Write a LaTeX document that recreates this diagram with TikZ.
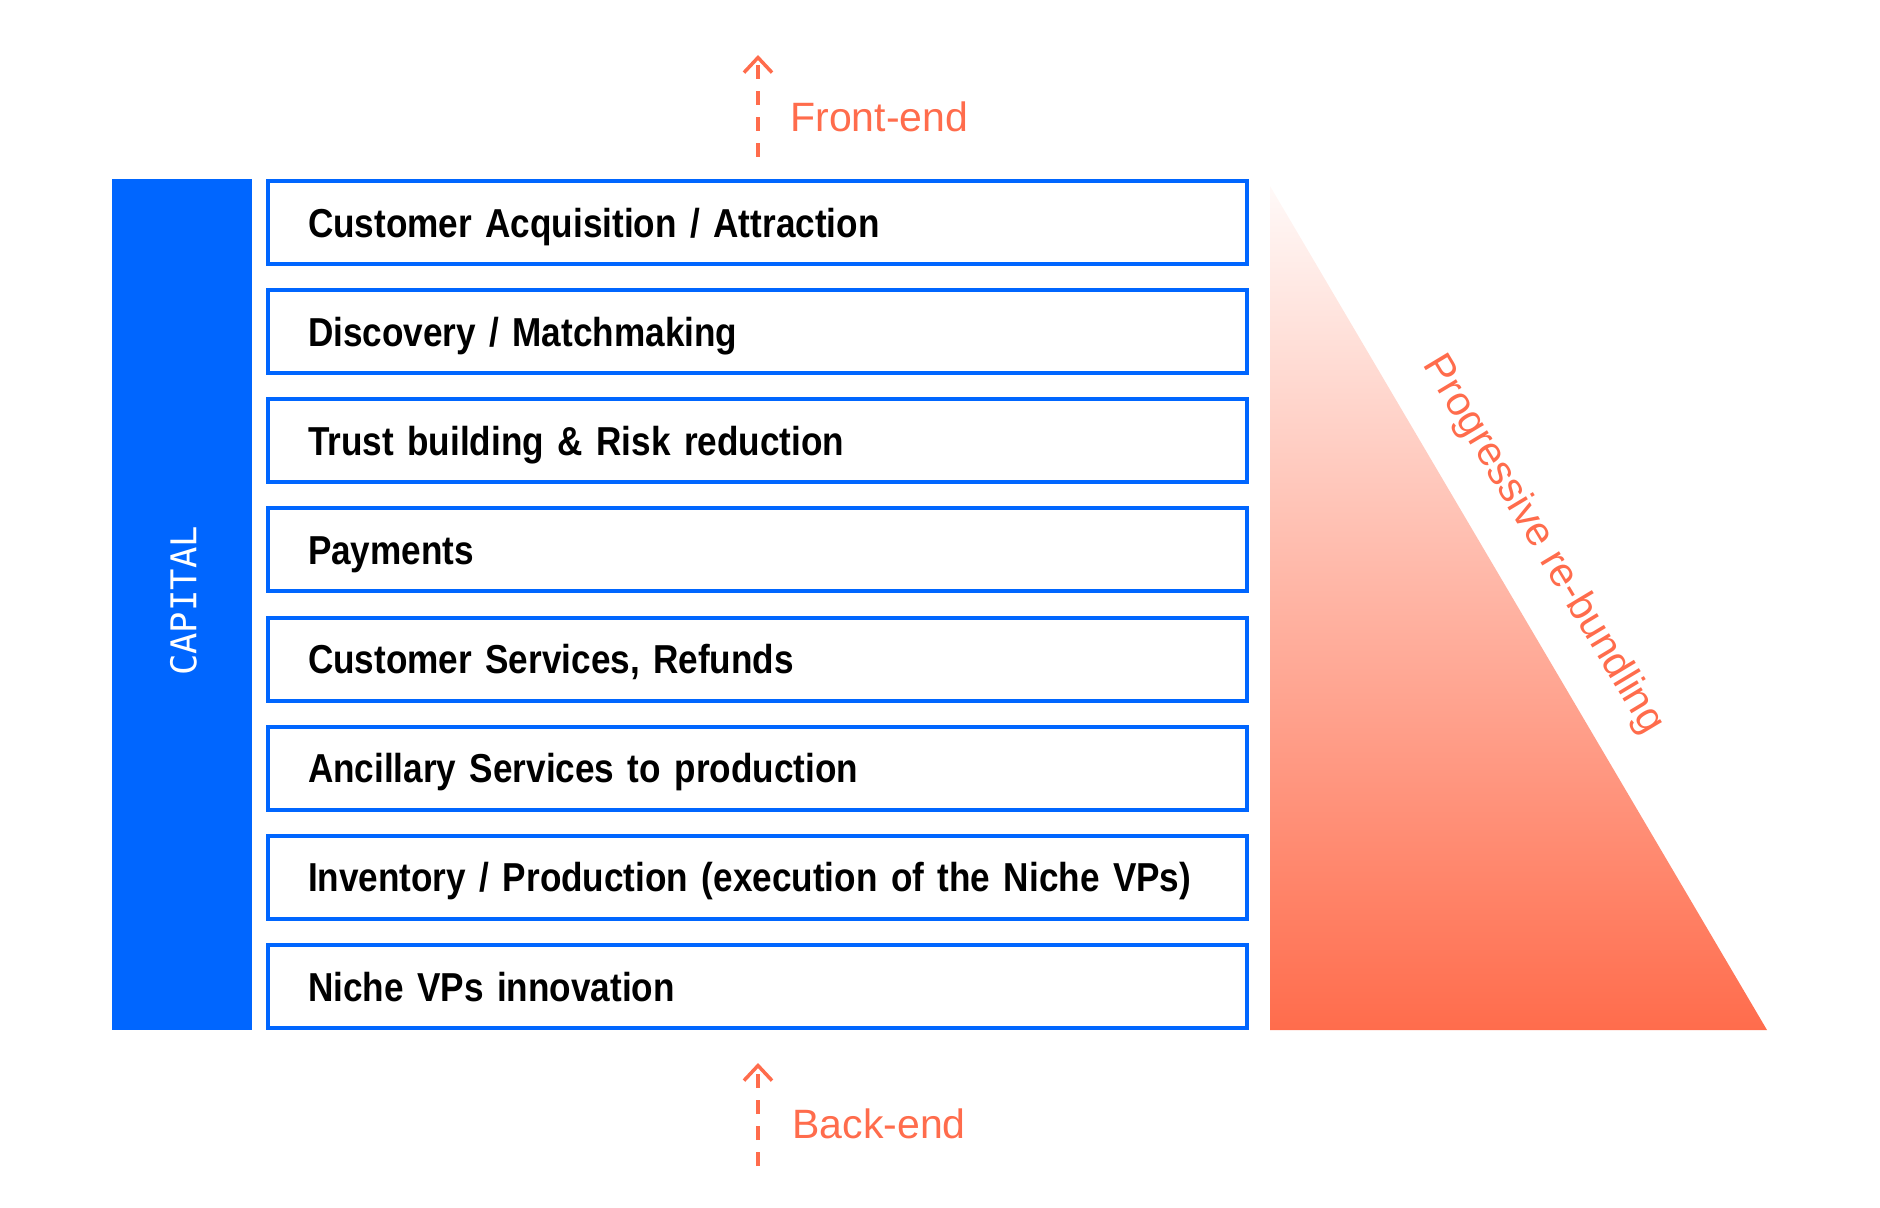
\documentclass[tikz,border=0pt]{standalone}
\usepackage{fontspec}
\setmainfont{Liberation Sans}
\newfontfamily\layerfont[FakeStretch=0.87]{Liberation Sans}
\newfontfamily\capfont{DejaVu Sans Mono}
\usetikzlibrary{arrows.meta}
\definecolor{capblue}{HTML}{0066FF}
\definecolor{coral}{HTML}{FF6C4C}

\begin{document}
\begin{tikzpicture}[x=0.5pt,y=-0.5pt,
  layer/.style={draw=capblue, line width=2pt, anchor=west, inner xsep=20pt, inner ysep=0pt,
    minimum height=41.5pt, text width=449.5pt, align=left, text height=14.6pt, text depth=0pt,
    font=\layerfont\bfseries\fontsize{20.2pt}{24pt}\selectfont},
  tagtext/.style={coral, inner sep=0pt, font=\fontsize{20.5pt}{24pt}\selectfont},
  flow/.style={coral, line width=1.75pt, dash pattern=on 7pt off 6pt,
    -{Straight Barb[length=7.5pt,width=14pt]}}]
  \useasboundingbox (0,0) rectangle (1880,1208);

  % capital bar
  \fill[capblue] (112,179) rectangle (252,1030);
  \node[white, rotate=90, inner sep=0pt, font=\capfont\fontsize{17.75pt}{20pt}\selectfont] (capital) at (183.5,601) {CAPITAL};

  % layers, top to bottom
  \foreach \txt [count=\i] in {Customer Acquisition / Attraction, Discovery / Matchmaking,
      Trust building \& Risk reduction, Payments, {Customer Services, Refunds},
      Ancillary Services to production, Inventory / Production (execution of the Niche VPs),
      Niche VPs innovation}
    \node[layer] (layer\i) at (266,{222.5+109.14*(\i-1)}) {\txt};

  % re-bundling triangle
  \shade[top color=coral!4, bottom color=coral] (1270,186) -- (1767,1030) -- (1270,1030) -- cycle;
  \node[coral, rotate=-59, inner sep=0pt, font=\fontsize{20.5pt}{24pt}\selectfont] (rebundle) at (1543,545) {Progressive re-bundling};

  % front-end / back-end
  \coordinate (fe-tail) at (758,157);
  \coordinate (fe-tip) at (758,55);
  \coordinate (be-tail) at (758,1166);
  \coordinate (be-tip) at (758,1063);
  \draw[flow] (fe-tail) -- (fe-tip);
  \draw[flow] (be-tail) -- (be-tip);
  \node[tagtext, anchor=west] (front) at (790,117) {Front-end};
  \node[tagtext, anchor=west] (back) at (792,1124) {Back-end};
\end{tikzpicture}
\end{document}
